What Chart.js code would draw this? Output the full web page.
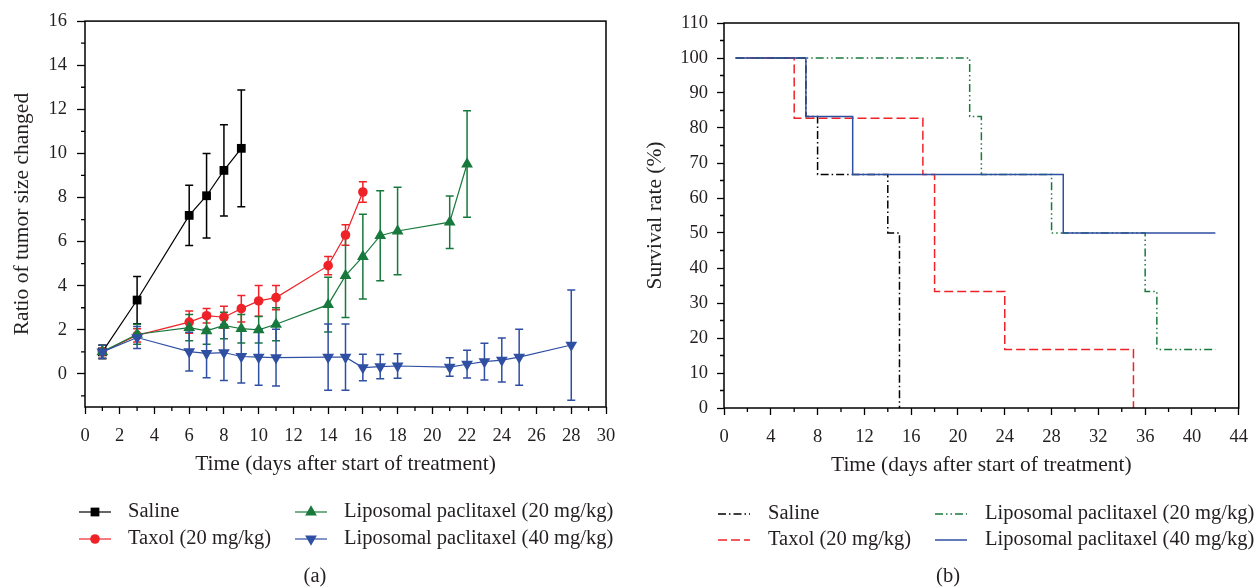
<!DOCTYPE html>
<html>
<head>
<meta charset="utf-8">
<script src="https://cdn.jsdelivr.net/npm/chart.js@4.4.1/dist/chart.umd.min.js"></script>
<style>
  body { margin: 0; background: #fff; }
  #wrap { position: relative; width: 1259px; height: 588px; }
  #tumor { position: absolute; left: 0; top: 0; }
  #survival { position: absolute; left: 640px; top: 0; }
</style>
</head>
<body>
<div id="wrap">
  <canvas id="tumor" width="640" height="588"></canvas>
  <canvas id="survival" width="619" height="588"></canvas>
</div>
<script>
const seriesNames = ['Saline', 'Taxol (20 mg/kg)', 'Liposomal paclitaxel (20 mg/kg)', 'Liposomal paclitaxel (40 mg/kg)'];
const seriesColors = ['#000000', '#ee2227', '#18793d', '#2f4fa2'];

// (a) ratio of tumour size, mean and error
const salineDays = [1, 3, 6, 7, 8, 9];
const salineRatio = [1.0, 3.35, 7.19, 8.08, 9.23, 10.23];
const salineErr = [0.3, 1.07, 1.37, 1.92, 2.07, 2.65];

const taxolDays = [1, 3, 6, 7, 8, 9, 10, 11, 14, 15, 16];
const taxolRatio = [1.0, 1.75, 2.35, 2.64, 2.57, 2.96, 3.31, 3.46, 4.91, 6.30, 8.25];
const taxolErr = [0.3, 0.3, 0.5, 0.33, 0.5, 0.6, 0.7, 0.55, 0.41, 0.47, 0.47];

const lipo20Days = [1, 3, 6, 7, 8, 9, 10, 11, 14, 15, 16, 17, 18, 21, 22];
const lipo20Ratio = [1.0, 1.8, 2.1, 1.95, 2.2, 2.05, 2.0, 2.25, 3.14, 4.46, 5.32, 6.27, 6.48, 6.88, 9.52];
const lipo20Err = [0.3, 0.45, 0.6, 0.6, 0.6, 0.65, 0.6, 0.75, 1.24, 1.9, 1.92, 2.04, 1.98, 1.19, 2.41];

const lipo40Days = [1, 3, 6, 7, 8, 9, 10, 11, 14, 15, 16, 17, 18, 21, 22, 23, 24, 25, 28];
const lipo40Ratio = [1.0, 1.65, 1.01, 0.93, 0.97, 0.79, 0.76, 0.74, 0.76, 0.76, 0.29, 0.33, 0.36, 0.31, 0.44, 0.56, 0.63, 0.76, 1.31];
const lipo40Err = [0.3, 0.5, 0.88, 1.1, 1.27, 1.2, 1.27, 1.29, 1.5, 1.5, 0.6, 0.55, 0.56, 0.42, 0.63, 0.83, 1.0, 1.27, 2.5];

// (b) survival rate (%)
const salineSurvDays = [1, 7, 8, 14, 15];
const salineSurv = [100, 83.3, 66.7, 50, 0];
const taxolSurvDays = [1, 6, 17, 18, 24, 35];
const taxolSurv = [100, 82.8, 66.7, 33.3, 16.7, 0];
const lipo20SurvDays = [1, 21, 22, 28, 36, 37, 42];
const lipo20Surv = [100, 83.3, 66.7, 50, 33.3, 16.7, 16.7];
const lipo40SurvDays = [1, 7, 11, 29, 42];
const lipo40Surv = [100, 83.3, 66.7, 50, 50];

// ticks
const ratioXTicks = [0, 2, 4, 6, 8, 10, 12, 14, 16, 18, 20, 22, 24, 26, 28, 30];
const ratioXMinor = [1, 3, 5, 7, 9, 11, 13, 15, 17, 19, 21, 23, 25, 27, 29];
const ratioYTicks = [0, 2, 4, 6, 8, 10, 12, 14, 16];
const ratioYMinor = [-1, 1, 3, 5, 7, 9, 11, 13, 15];
const survXTicks = [0, 4, 8, 12, 16, 20, 24, 28, 32, 36, 40, 44];
const survXMinor = [2, 6, 10, 14, 18, 22, 26, 30, 34, 38, 42];
const survYTicks = [0, 10, 20, 30, 40, 50, 60, 70, 80, 90, 100, 110];
const survYMinor = [5, 15, 25, 35, 45, 55, 65, 75, 85, 95, 105];

const FAMILY = "'Liberation Serif', 'Times New Roman', serif";
const TEXT = '#231f20';
const tickFont = { family: FAMILY, size: 18.5 };
const titleFont = { family: FAMILY, size: 21.5 };

function pts(xs, ys) {
    return xs.map((x, i) => ({ x: x, y: ys[i] }));
}

// box frame + minor ticks
const frame = {
    id: 'frame',
    afterDraw(chart, args, opts) {
        const { ctx, chartArea: a, scales } = chart;
        ctx.save();
        ctx.strokeStyle = '#000';
        ctx.lineWidth = 1.5;
        ctx.strokeRect(a.left, a.top, a.right - a.left, a.bottom - a.top);
        ctx.lineWidth = 1.3;
        ctx.beginPath();
        opts.xMinor.forEach(v => {
            const px = scales.x.getPixelForValue(v);
            ctx.moveTo(px, a.bottom);
            ctx.lineTo(px, a.bottom + 4);
        });
        opts.yMinor.forEach(v => {
            const py = scales.y.getPixelForValue(v);
            ctx.moveTo(a.left, py);
            ctx.lineTo(a.left - 4, py);
        });
        ctx.stroke();
        ctx.restore();
    }
};

// vertical error bars with caps
const errorBars = {
    id: 'errorBars',
    beforeDatasetsDraw(chart) {
        const { ctx, scales: { x, y } } = chart;
        chart.data.datasets.forEach(ds => {
            if (!ds.errors) return;
            ctx.save();
            ctx.strokeStyle = ds.borderColor;
            ctx.lineWidth = 1.5;
            ds.data.forEach((p, j) => {
                const e = ds.errors[j];
                const px = x.getPixelForValue(p.x);
                const lo = y.getPixelForValue(p.y - e);
                const hi = y.getPixelForValue(p.y + e);
                ctx.beginPath();
                ctx.moveTo(px, lo); ctx.lineTo(px, hi);
                ctx.moveTo(px - 4, lo); ctx.lineTo(px + 4, lo);
                ctx.moveTo(px - 4, hi); ctx.lineTo(px + 4, hi);
                ctx.stroke();
            });
            ctx.restore();
        });
    }
};

// two-column legend under the plot, filled column by column, plus caption
const gridLegend = {
    id: 'gridLegend',
    afterDraw(chart, args, opts) {
        const ctx = chart.ctx;
        ctx.save();
        ctx.font = opts.font;
        ctx.textBaseline = 'middle';
        chart.data.datasets.forEach((ds, i) => {
            const x0 = opts.cols[Math.floor(i / 2)];
            const y0 = opts.rows[i % 2];
            ctx.strokeStyle = ds.borderColor;
            ctx.lineWidth = ds.borderWidth;
            ctx.setLineDash(ds.borderDash || []);
            ctx.beginPath();
            ctx.moveTo(x0, y0);
            ctx.lineTo(x0 + opts.lineLength, y0);
            ctx.stroke();
            ctx.setLineDash([]);
            if (ds.pointRadius > 0) {
                ctx.fillStyle = ds.pointBackgroundColor;
                Chart.helpers.drawPoint(ctx, {
                    pointStyle: ds.pointStyle,
                    radius: ds.pointRadius,
                    rotation: ds.pointRotation || 0,
                    borderWidth: 0
                }, x0 + opts.lineLength / 2, y0);
            }
            ctx.fillStyle = TEXT;
            ctx.textAlign = 'left';
            ctx.fillText(ds.label, x0 + opts.textOffset, y0);
        });
        ctx.textAlign = 'center';
        ctx.fillText(opts.caption, opts.captionX, opts.captionY);
        ctx.restore();
    }
};

function axis(min, max, ticks, fitSize, title, titlePad, tl, pad) {
    return {
        type: 'linear',
        min: min,
        max: max,
        afterBuildTicks: s => { s.ticks = ticks.map(v => ({ value: v })); },
        afterFit: s => {
            if (s.isHorizontal()) s.height = fitSize; else s.width = fitSize;
        },
        grid: { drawOnChartArea: false, drawTicks: true, tickLength: tl, tickColor: '#000', tickWidth: 1.3 },
        border: { display: false },
        ticks: { color: TEXT, font: tickFont, padding: pad, maxRotation: 0, autoSkip: false },
        title: { display: true, text: title, color: TEXT, font: titleFont, padding: titlePad }
    };
}

const ratioData = [
    [salineDays, salineRatio, salineErr, 'rect', 6.2, 0],
    [taxolDays, taxolRatio, taxolErr, 'circle', 4.8, 0],
    [lipo20Days, lipo20Ratio, lipo20Err, 'triangle', 6.8, 0],
    [lipo40Days, lipo40Ratio, lipo40Err, 'triangle', 6.8, 180]
];

new Chart(document.getElementById('tumor'), {
    type: 'line',
    data: {
        datasets: ratioData.map((r, i) => ({
            label: seriesNames[i],
            data: pts(r[0], r[1]),
            errors: r[2],
            borderColor: seriesColors[i],
            borderWidth: 1.2,
            pointStyle: r[3],
            pointRadius: r[4],
            pointRotation: r[5],
            pointBackgroundColor: seriesColors[i],
            pointBorderWidth: 0,
            tension: 0,
            order: 4 - i
        }))
    },
    options: {
        responsive: false,
        animation: false,
        events: [],
        layout: { padding: { left: 0, top: 21, right: 34, bottom: 101 } },
        scales: {
            x: axis(0, 30, ratioXTicks, 80, 'Time (days after start of treatment)', { top: 0, bottom: 10 }, 7, 11),
            y: axis(-1.5, 16, ratioYTicks, 85, 'Ratio of tumor size changed', { top: 9, bottom: 0 }, 8, 10)
        },
        plugins: {
            legend: { display: false },
            tooltip: { enabled: false },
            frame: { xMinor: ratioXMinor, yMinor: ratioYMinor },
            gridLegend: {
                font: "20.5px " + FAMILY, cols: [79, 295], rows: [512, 539],
                lineLength: 32, textOffset: 49, caption: '(a)', captionX: 315, captionY: 577
            }
        }
    },
    plugins: [errorBars, frame, gridLegend]
});

const survData = [
    [salineSurvDays, salineSurv, [8, 3, 1.5, 3]],
    [taxolSurvDays, taxolSurv, [9, 4]],
    [lipo20SurvDays, lipo20Surv, [8, 3, 1.5, 3, 1.5, 3]],
    [lipo40SurvDays, lipo40Surv, []]
];

new Chart(document.getElementById('survival'), {
    type: 'line',
    data: {
        datasets: survData.map((r, i) => ({
            label: seriesNames[i],
            data: pts(r[0], r[1]),
            borderColor: seriesColors[i],
            borderWidth: 1.5,
            borderDash: r[2],
            stepped: 'before',
            pointRadius: 0,
            order: 4 - i
        }))
    },
    options: {
        responsive: false,
        animation: false,
        events: [],
        layout: { padding: { left: 0, top: 23, right: 13, bottom: 100 } },
        scales: {
            x: axis(0, 44, survXTicks, 80, 'Time (days after start of treatment)', { top: 0, bottom: 10 }, 7, 11),
            y: axis(0, 110, survYTicks, 84, 'Survival rate (%)', { top: 2, bottom: 0 }, 7, 9)
        },
        plugins: {
            legend: { display: false },
            tooltip: { enabled: false },
            frame: { xMinor: survXMinor, yMinor: survYMinor },
            gridLegend: {
                font: "20.5px " + FAMILY, cols: [78, 295], rows: [514, 540],
                lineLength: 32, textOffset: 50, caption: '(b)', captionX: 308, captionY: 577
            }
        }
    },
    plugins: [frame, gridLegend]
});
</script>
</body>
</html>
